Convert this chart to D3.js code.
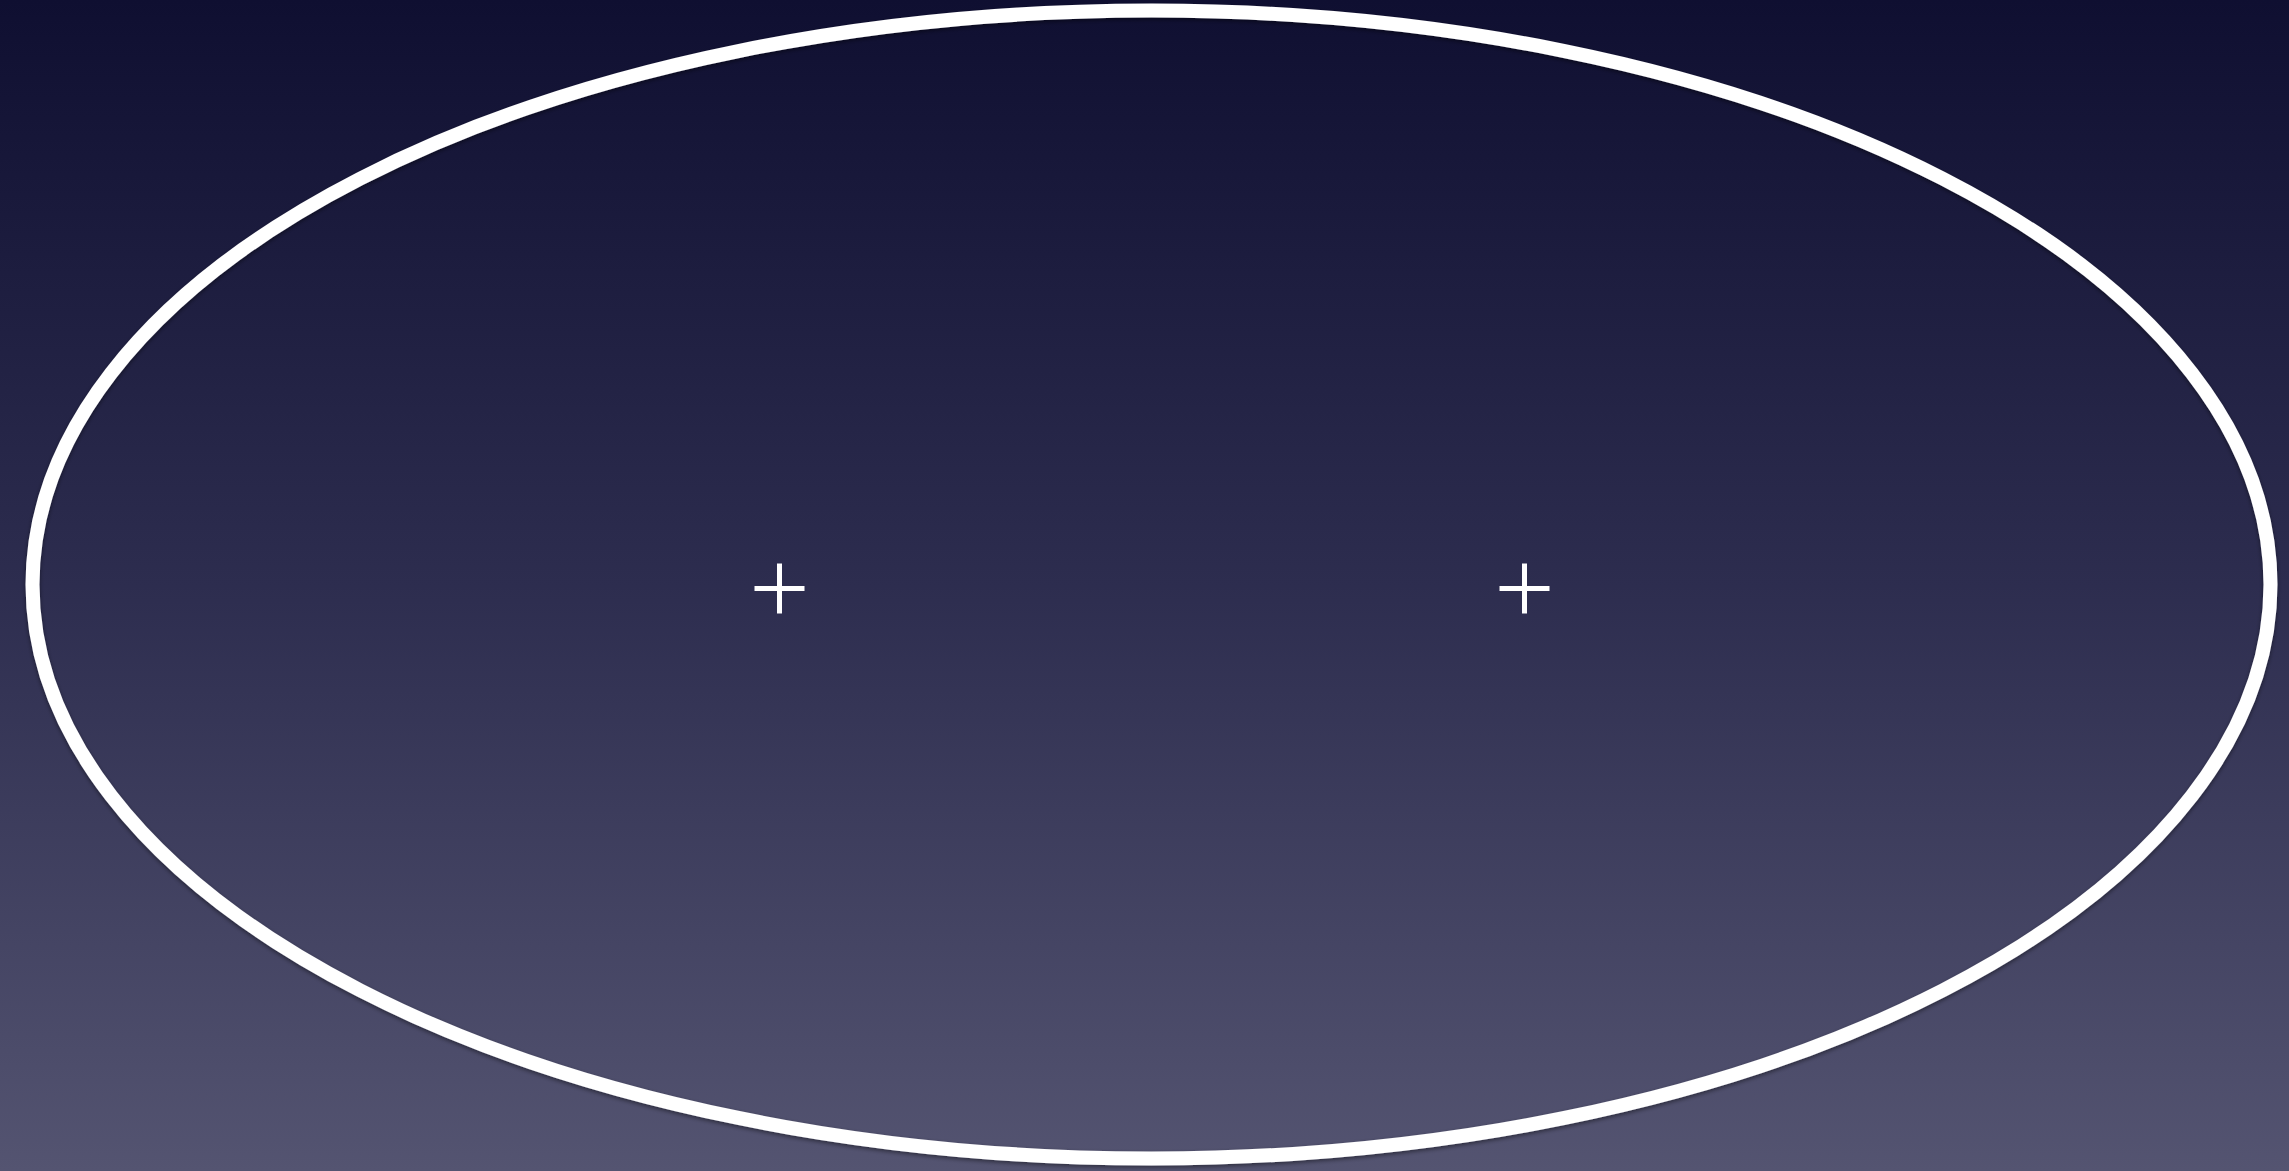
<!DOCTYPE html>
<html>
  <head>
    <meta charset="utf-8">
    <title>ellipse with two foci</title>
    <script src="https://cdnjs.cloudflare.com/ajax/libs/d3/7.8.5/d3.min.js"></script>
    <style>
      html, body { margin: 0; padding: 0; overflow: hidden; }
    </style>
  </head>
  <body>
    <script>
      var w = 2289;
      var h = 1171;

      // ellipse and focus points, in data units (centre = 0,0)
      var ellipse = { rx: 1119, ry: 574 };
      var foci = [-372, 373];
      var markerSize = 25;

      var x = d3.scaleLinear().domain([-w / 2, w / 2]).range([7, w + 7]);
      var y = d3.scaleLinear().domain([-h / 2, h / 2]).range([-1, h - 1]);

      var svg = d3.select('body')
                  .append('svg')
                    .attr('width', w)
                    .attr('height', h);

      var defs = svg.append('defs');

      // background gradient: dark navy at the top, greyish lavender at the bottom
      var grad = defs.append('linearGradient')
                       .attr('id', 'bg')
                       .attr('x1', 0).attr('y1', 0)
                       .attr('x2', 0).attr('y2', 1);
      grad.append('stop').attr('offset', '0%').attr('stop-color', '#0f0f31');
      grad.append('stop').attr('offset', '50%').attr('stop-color', '#2d2d4f');
      grad.append('stop').attr('offset', '100%').attr('stop-color', '#545471');

      var shadow = defs.append('filter')
                         .attr('id', 'shadow')
                         .attr('x', '-5%').attr('y', '-5%')
                         .attr('width', '110%').attr('height', '110%');
      shadow.append('feDropShadow')
              .attr('dx', 0).attr('dy', 2)
              .attr('stdDeviation', 2)
              .attr('flood-color', '#000')
              .attr('flood-opacity', 0.45);

      svg.append('rect')
           .attr('width', w)
           .attr('height', h)
           .attr('fill', 'url(#bg)');

      svg.append('ellipse')
           .attr('cx', x(0))
           .attr('cy', y(0))
           .attr('rx', ellipse.rx)
           .attr('ry', ellipse.ry)
           .attr('fill', 'none')
           .attr('stroke', '#fff')
           .attr('stroke-width', 14)
           .attr('filter', 'url(#shadow)');

      // the two focus crosses
      var marks = svg.selectAll('g.focus')
                     .data(foci)
                     .enter()
                     .append('g')
                       .attr('class', 'focus')
                       .attr('transform', function(d) { return 'translate(' + x(d) + ',' + y(4) + ')'; })
                       .attr('stroke', '#fff')
                       .attr('stroke-width', 5);

      marks.append('line')
             .attr('x1', -markerSize).attr('x2', markerSize)
             .attr('y1', 0).attr('y2', 0);
      marks.append('line')
             .attr('x1', 0).attr('x2', 0)
             .attr('y1', -markerSize).attr('y2', markerSize);
    </script>
  </body>
</html>
